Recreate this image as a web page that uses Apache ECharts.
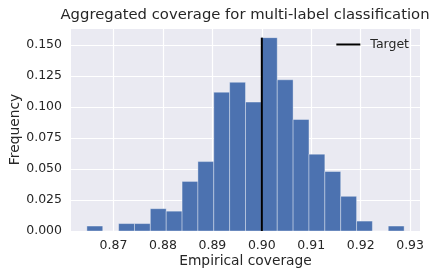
<!DOCTYPE html>
<html>
<head>
<meta charset="utf-8">
<script src="https://cdn.jsdelivr.net/npm/echarts@6/dist/echarts.min.js"></script>
<style>html,body{margin:0;padding:0;background:#fff}#c{width:441px;height:279px}</style>
</head>
<body>
<div id="c"></div>
<script>
const binEdges = [0.86461, 0.86782, 0.87103, 0.87424, 0.87745, 0.88066, 0.88387, 0.88707, 0.89028, 0.89349, 0.89670, 0.89991, 0.90312, 0.90633, 0.90954, 0.91275, 0.91596, 0.91917, 0.92237, 0.92558, 0.92879];
const frequencies = [0.004, 0, 0.006, 0.006, 0.018, 0.016, 0.040, 0.056, 0.112, 0.120, 0.104, 0.156, 0.122, 0.090, 0.062, 0.048, 0.028, 0.008, 0, 0.004];
const targetValue = 0.90;
const xTicks = [0.87, 0.88, 0.89, 0.90, 0.91, 0.92, 0.93];
const yTicks = [0, 0.025, 0.05, 0.075, 0.1, 0.125, 0.15];

const FONT = 'DejaVu Sans';
const TXT = '#262626';
const barData = frequencies.map((f, i) => [binEdges[i], binEdges[i + 1], f]);
const fMax = Math.max(...frequencies);

const chart = echarts.init(document.getElementById('c'), null, {renderer: 'canvas'});
chart.setOption({
  animation: false,
  backgroundColor: '#ffffff',
  textStyle: {fontFamily: FONT, color: TXT},
  graphic: [{
    type: 'text', x: 245, y: 15.5,
    style: {text: 'Aggregated coverage for multi-label classification', font: '14.8px "DejaVu Sans"', fill: TXT, textAlign: 'center', textVerticalAlign: 'middle'}
  }],
  grid: {left: 71, right: 21, top: 28, bottom: 48, show: true, backgroundColor: '#EAEAF2', borderWidth: 0, containLabel: false, outerBoundsMode: 'none'},
  legend: {
    right: 27, top: 33, orient: 'vertical',
    icon: 'rect', itemWidth: 24, itemHeight: 2, itemGap: 6,
    textStyle: {fontFamily: FONT, fontSize: 12.5, color: TXT, padding: [0, 0, 0, 5]},
    data: [{name: 'Target', itemStyle: {color: '#000'}}]
  },
  xAxis: {
    type: 'value', min: 0.8614, max: 0.9320,
    name: 'Empirical coverage', nameLocation: 'middle', nameGap: 23.5, nameMoveOverlap: false,
    nameTextStyle: {fontFamily: FONT, fontSize: 13.8, color: TXT},
    axisLine: {show: false},
    axisTick: {show: false, customValues: xTicks},
    axisLabel: {customValues: xTicks, formatter: v => v.toFixed(2), fontFamily: FONT, fontSize: 12.5, color: TXT, margin: 8},
    splitLine: {show: true, lineStyle: {color: '#ffffff', width: 1.2}}
  },
  yAxis: {
    type: 'value', min: 0, max: 0.1638, interval: 0.025,
    name: 'Frequency', nameLocation: 'middle', nameGap: 49, nameMoveOverlap: false,
    nameTextStyle: {fontFamily: FONT, fontSize: 13.8, color: TXT},
    axisLine: {show: false},
    axisTick: {show: false},
    axisLabel: {formatter: v => v.toFixed(3), fontFamily: FONT, fontSize: 12.5, color: TXT, margin: 9, showMaxLabel: false},
    splitLine: {show: true, lineStyle: {color: '#ffffff', width: 1.2}}
  },
  series: [{
    type: 'custom',
    name: 'hist',
    data: barData,
    encode: {x: [0, 1], y: 2},
    renderItem: function (params, api) {
      const p0 = api.coord([api.value(0), api.value(2)]);
      const p1 = api.coord([api.value(1), 0]);
      return {
        type: 'rect',
        shape: {x: p0[0], y: p0[1], width: p1[0] - p0[0], height: p1[1] - p0[1]},
        style: {fill: '#4C72B0', stroke: '#ffffff', lineWidth: 0.6, strokeOpacity: 0.6}
      };
    },
    z: 2
  }, {
    type: 'line',
    name: 'Target',
    data: [[targetValue, 0], [targetValue, fMax]],
    symbol: 'none',
    lineStyle: {color: '#000000', width: 2},
    itemStyle: {color: '#000000'},
    z: 3
  }]
});
</script>
</body>
</html>
